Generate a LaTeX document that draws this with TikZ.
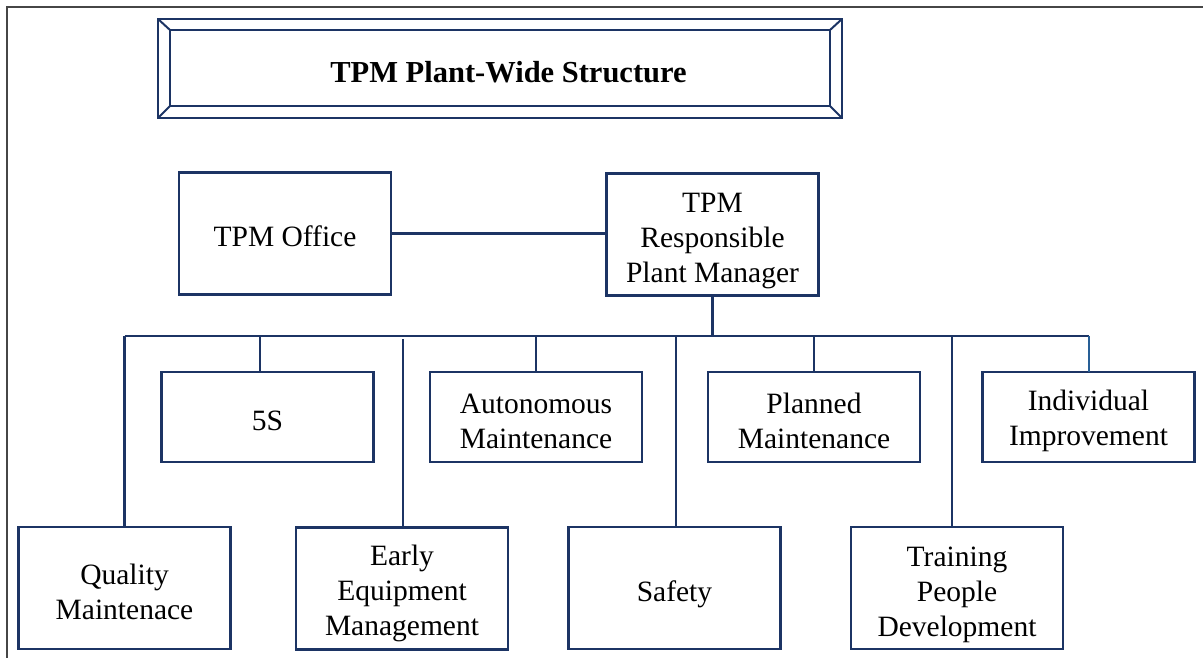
\documentclass[tikz,border=0pt]{standalone}
\usepackage{fontspec}
\setmainfont{Liberation Serif}
\definecolor{navy}{RGB}{28,52,100}
\definecolor{lnavy}{RGB}{40,95,150}
\definecolor{frame}{RGB}{70,70,70}
\begin{document}
\begin{tikzpicture}[x=1pt,y=-1pt,
  box/.style={draw=navy, line width=2.4pt, minimum width=212pt, inner sep=0pt, outer sep=0pt},
  tall/.style={box, minimum height=122pt},
  short/.style={box, minimum height=90pt},
  txt/.style={align=center, text=black, inner sep=0pt, font=\fontsize{29.5}{35}\selectfont},
  conn/.style={draw=navy, line width=2.4pt},
  tline/.style={draw=navy, line width=2pt, line join=miter}]
\useasboundingbox (0,0) rectangle (1203,658);
% page frame
\coordinate (fbl) at (7,658);
\coordinate (ftl) at (7,7);
\coordinate (ftr) at (1203,7);
\draw[frame, line width=1.6pt] (fbl) -- (ftl) -- (ftr);
% title frame
\coordinate (o1) at (158,19);
\coordinate (o2) at (842,19);
\coordinate (o3) at (842,118);
\coordinate (o4) at (158,118);
\coordinate (i1) at (170,30);
\coordinate (i2) at (830,30);
\coordinate (i3) at (830,106);
\coordinate (i4) at (170,106);
\draw[tline] (o1) -- (o2) -- (o3) -- (o4) -- cycle;
\draw[tline] (i1) -- (i2) -- (i3) -- (i4) -- cycle;
\draw[tline] (o1) -- (i1) (o2) -- (i2) (o3) -- (i3) (o4) -- (i4);
\node[font=\fontsize{30.5}{36}\selectfont\bfseries, inner sep=0pt] (title) at (508.5,72) {TPM Plant-Wide Structure};
% top row
\node[tall] (office) at (285,233.5) {};
\node[tall] (mgr) at (712.5,234.5) {};
% middle row
\node[short] (s5) at (267.5,417) {};
\node[short] (auto) at (536,417) {};
\node[short] (plan) at (814,417) {};
\node[short] (indiv) at (1088.5,417) {};
% bottom row
\node[tall] (qual) at (124.5,588) {};
\node[tall] (early) at (402,588.5) {};
\node[tall] (safety) at (674.5,588) {};
\node[tall] (train) at (957,588) {};
% texts
\node[txt] (tOffice) at ([yshift=-3pt]office.center) {TPM Office};
\node[txt] (tMgr) at ([yshift=-7pt]mgr.center) {TPM\\Responsible\\Plant Manager};
\node[txt] (tS5) at ([yshift=-4pt]s5.center) {5S};
\node[txt] (tAuto) at ([yshift=-4pt]auto.center) {Autonomous\\Maintenance};
\node[txt] (tPlan) at ([yshift=-4pt]plan.center) {Planned\\Maintenance};
\node[txt] (tIndiv) at ([yshift=-4pt]indiv.center) {Individual\\Improvement};
\node[txt] (tQual) at ([yshift=-4pt]qual.center) {Quality\\Maintenace};
\node[txt] (tEarly) at ([yshift=-5pt]early.center) {Early\\Equipment\\Management};
\node[txt] (tSafety) at ([yshift=-6pt]safety.center) {Safety};
\node[txt] (tTrain) at ([yshift=-7pt]train.center) {Training\\People\\Development};
% connectors
\coordinate (bus) at (0,336);
\draw[conn] (office.east) -- (mgr.west |- office.east);
\draw[conn] (mgr.south) -- (mgr.south |- bus);
\draw[conn] (qual.north |- bus) -- (indiv.north |- bus);
\draw[conn] (qual.north) -- (qual.north |- bus);
\draw[conn] ([xshift=-7.5pt]s5.north) -- ([xshift=-7.5pt]s5.north |- bus);
\draw[conn] ([xshift=1pt]early.north) -- ([xshift=1pt,yshift=-3pt]early.north |- bus);
\draw[conn] (auto.north) -- (auto.north |- bus);
\draw[conn] ([xshift=1.5pt]safety.north) -- ([xshift=1.5pt]safety.north |- bus);
\draw[conn] (plan.north) -- (plan.north |- bus);
\draw[conn] ([xshift=-5pt]train.north) -- ([xshift=-5pt]train.north |- bus);
\draw[draw=lnavy, line width=2pt] (indiv.north) -- (indiv.north |- bus);
\end{tikzpicture}
\end{document}
